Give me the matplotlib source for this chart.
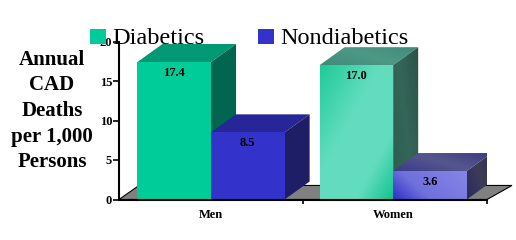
import numpy as np
import matplotlib
matplotlib.use("Agg")
import matplotlib.pyplot as plt
from matplotlib.patches import Polygon, Rectangle
from matplotlib.colors import to_rgb

# ── Data ──────────────────────────────────────────────────────────────
groups = ["Men", "Women"]
series = ["Diabetics", "Nondiabetics"]
diabetics = [17.4, 17.0]
nondiabetics = [8.5, 3.6]
yticks = [0, 5, 10, 15, 20]
ylabel = "Annual\nCAD\nDeaths\nper 1,000\nPersons"

SERIF = ["Liberation Serif", "DejaVu Serif"]
W, H = 516, 240

# ── Layout ────────────────────────────────────────────────────────────
fig = plt.figure(figsize=(W / 100, H / 100), dpi=100)
fig.patch.set_facecolor("white")
ax = fig.add_axes([119 / W, (H - 199.5) / H, 368 / W, 158 / H])
ax.set_xlim(0, 2)
ax.set_ylim(0, 20)
ax.patch.set_alpha(0)

DX, DY = 0.136, 2.28       # depth offset of the 3D boxes (data units)
BW = 0.4                   # bar width


def grad_fill(poly, stops, direction):
    """fill a polygon with a linear gradient (clipped image)"""
    xs, ys = zip(*poly)
    x0, x1, y0, y1 = min(xs), max(xs), min(ys), max(ys)
    u, v = np.meshgrid(np.linspace(0, 1, 60), np.linspace(0, 1, 60))
    t = np.clip(direction(u, v), 0, 1)
    pos = [s[0] for s in stops]
    cols = np.array([to_rgb(s[1]) for s in stops])
    img = np.stack([np.interp(t, pos, cols[:, k]) for k in range(3)], axis=-1)
    patch = Polygon(poly, closed=True, facecolor="none", edgecolor="none")
    ax.add_patch(patch)
    im = ax.imshow(img, extent=(x0, x1, y0, y1), origin="lower",
                   aspect="auto", interpolation="bilinear", zorder=3)
    im.set_clip_path(patch)


def box(x, h, front, top, side, grad=None):
    fr = [(x, 0), (x + BW, 0), (x + BW, h), (x, h)]
    tp = [(x, h), (x + BW, h), (x + BW + DX, h + DY), (x + DX, h + DY)]
    sd = [(x + BW, 0), (x + BW + DX, DY), (x + BW + DX, h + DY), (x + BW, h)]
    for poly, c in [(tp, top), (sd, side)]:
        if isinstance(c, list):
            grad_fill(poly, c, lambda u, v: u * 0.6 + v * 0.4)
        else:
            ax.add_patch(Polygon(poly, closed=True, facecolor=c, edgecolor="none",
                                 zorder=3, clip_on=False))
    if grad is not None:
        grad_fill(fr, front, grad)
    else:
        ax.add_patch(Polygon(fr, closed=True, facecolor=front, edgecolor="none",
                             zorder=3, clip_on=False))


# floor
ax.add_patch(Polygon([(0, 0), (2, 0), (2 + DX, DY * 0.78), (DX * 0.8, DY * 0.78)],
                     closed=True, facecolor="#808080", edgecolor="black",
                     linewidth=0.8, zorder=2, clip_on=False))

# Men (flat colours)
box(0.5 - BW, diabetics[0], "#00CC99", "#009973", "#006650")
box(0.5, nondiabetics[0], "#3333CC", "#262699", "#1E1E66")

# Women (shaded)
box(1.49 - BW, diabetics[1],
    [(0, "#1ECB98"), (0.4, "#62DCBE"), (0.75, "#62DCBE"), (1, "#12C38F")],
    [(0, "#3E8A78"), (0.5, "#4E9886"), (1, "#3E8A78")],
    [(0, "#2A5C50"), (0.5, "#356658"), (1, "#2C5248")],
    grad=lambda u, v: (u + (1 - v)) / 2)
box(1.49, nondiabetics[1],
    [(0, "#3030C8"), (0.35, "#7070DC"), (1, "#8686E6")],
    [(0, "#3A3A8C"), (0.5, "#56568E"), (1, "#3A3A80")],
    [(0, "#2A2A60"), (0.5, "#3C3C58"), (1, "#30304A")],
    grad=lambda u, v: u * 0.7 + v * 0.3)

# value labels
for i, (d, n) in enumerate(zip(diabetics, nondiabetics)):
    c = 0.5 + i * 0.99
    for xc, val in [(c - BW / 2, d), (c + BW / 2, n)]:
        ax.text(xc, val - 0.6, f"{val:.1f}", ha="center", va="top",
                fontsize=9, fontweight="bold", family=SERIF, zorder=5)

# axes styling
for s in ["top", "right"]:
    ax.spines[s].set_visible(False)
for s in ["left", "bottom"]:
    ax.spines[s].set_linewidth(1.5)
    ax.spines[s].set_zorder(4)
ax.set_yticks(yticks)
ax.set_yticklabels([str(t) for t in yticks], fontsize=9, fontweight="bold",
                   family=SERIF)
ax.tick_params(axis="y", direction="out", length=4, width=1.2, pad=1)
ax.set_xticks([1, 2])
ax.set_xticklabels([])
ax.tick_params(axis="x", direction="out", length=3, width=1.2)
for i, g in enumerate(groups):
    ax.text(0.5 + i * 0.99, -2.0, g, ha="center", va="center", fontsize=9,
            fontweight="bold", family=SERIF)

# y label
fig.text(52 / W, (H - 111) / H, ylabel, ha="center", va="center",
         multialignment="center", fontsize=15, fontweight="bold",
         family=SERIF, linespacing=1.38)

# legend
for (x0, col), name in zip([(90, "#00CC99"), (258, "#3333CC")], series):
    fig.patches.append(Rectangle((x0 / W, (H - 44) / H), 16 / W, 15 / H,
                                 transform=fig.transFigure, facecolor=col,
                                 edgecolor="none", zorder=10))
    fig.text((x0 + 22) / W, (H - 44) / H, name, ha="left", va="baseline",
             fontsize=17.5, family=SERIF, zorder=11)

plt.savefig("out.png", dpi=100)
plt.close()
